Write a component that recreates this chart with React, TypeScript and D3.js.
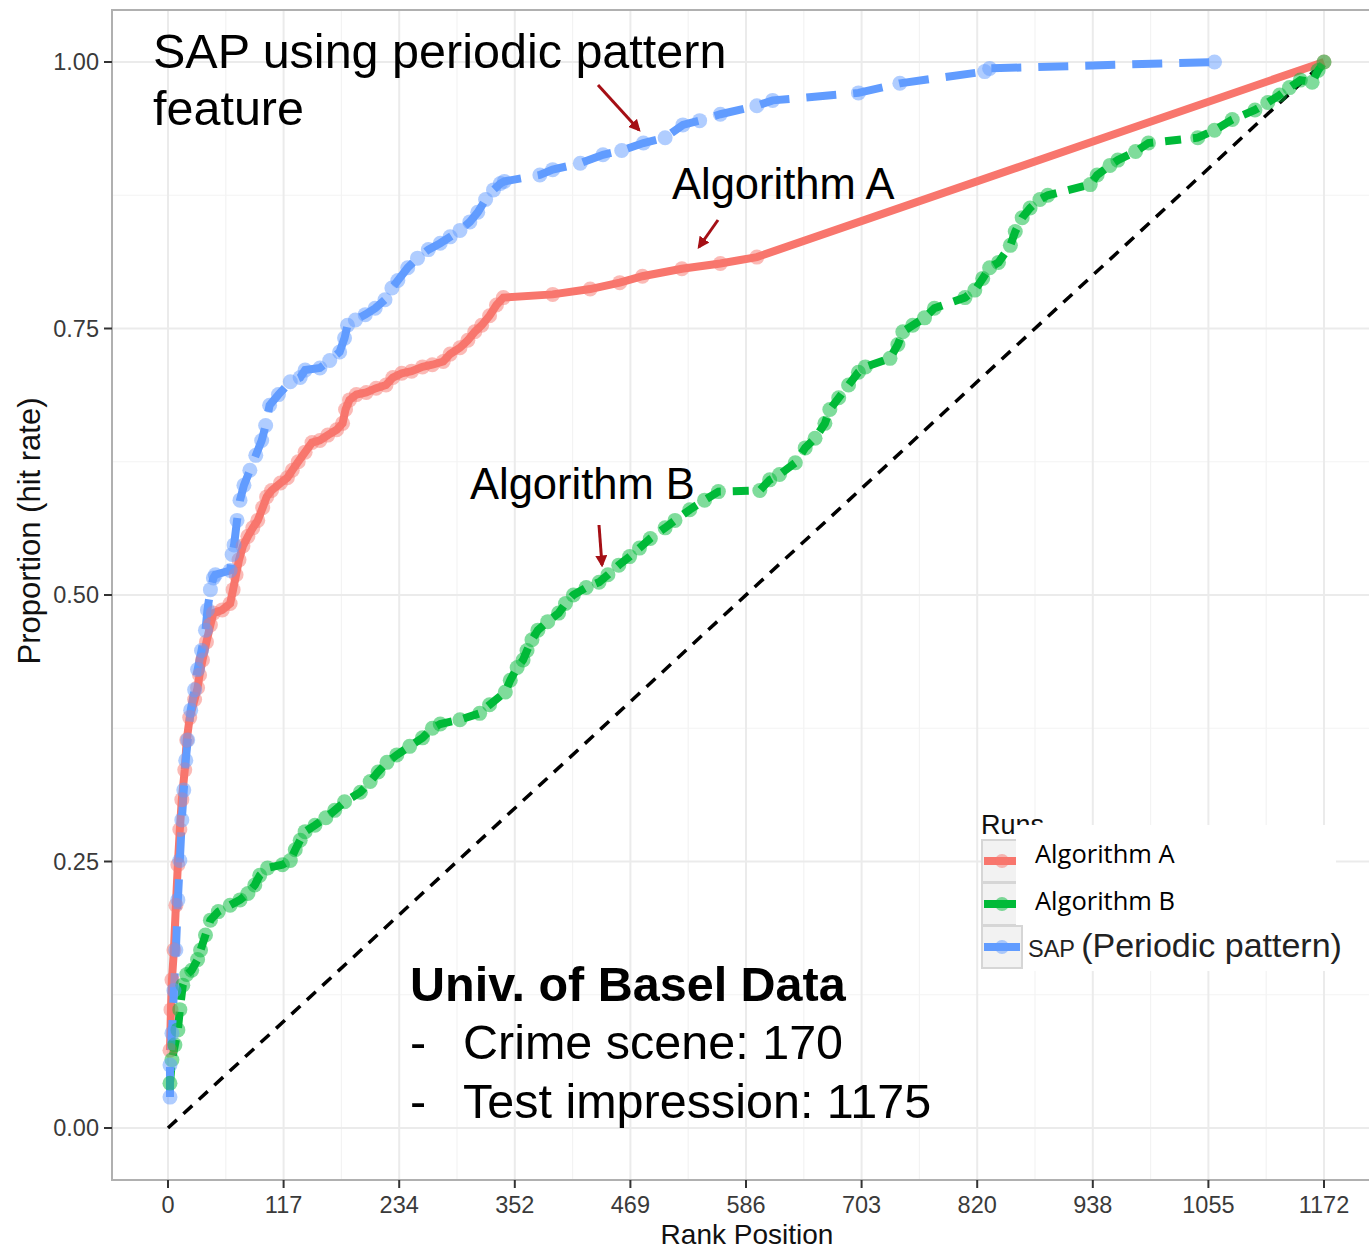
import React from 'react'
import * as d3 from 'd3'

// rank position, proportion (hit rate)
const sapRank = [2, 2, 4, 6, 8, 10, 12, 14, 16, 18, 20, 23, 27, 30, 34, 38, 40, 43, 46, 48, 63, 65, 67, 70, 73, 77, 83, 89, 95, 99, 103, 112, 124, 134, 139, 154, 164, 174, 179, 182, 190, 200, 210, 220, 227, 233, 243, 253, 264, 276, 286, 296, 306, 314, 322, 330, 337, 341, 377, 390, 418, 441, 460, 482, 504, 522, 539, 560, 597, 613, 700, 742, 828, 833, 1061]
const sapProp = [0.029, 0.059, 0.089, 0.129, 0.167, 0.214, 0.251, 0.289, 0.317, 0.345, 0.364, 0.392, 0.411, 0.43, 0.448, 0.467, 0.486, 0.505, 0.516, 0.519, 0.523, 0.538, 0.547, 0.57, 0.589, 0.603, 0.617, 0.631, 0.645, 0.659, 0.678, 0.688, 0.7, 0.704, 0.711, 0.713, 0.72, 0.728, 0.741, 0.753, 0.758, 0.763, 0.769, 0.777, 0.788, 0.795, 0.807, 0.816, 0.824, 0.83, 0.836, 0.842, 0.85, 0.859, 0.871, 0.88, 0.886, 0.888, 0.894, 0.899, 0.905, 0.913, 0.917, 0.924, 0.929, 0.941, 0.945, 0.951, 0.959, 0.964, 0.971, 0.98, 0.991, 0.994, 1.0]

const algARank = [2, 3, 4, 6, 8, 10, 12, 14, 17, 19, 22, 27, 30, 32, 35, 39, 43, 46, 55, 63, 66, 69, 72, 76, 81, 86, 91, 96, 100, 105, 114, 121, 126, 132, 139, 146, 154, 162, 171, 177, 180, 184, 191, 201, 211, 221, 228, 237, 247, 258, 268, 279, 286, 296, 304, 311, 318, 326, 333, 340, 390, 428, 458, 481, 521, 560, 597, 1172]
const algAProp = [0.073, 0.111, 0.139, 0.167, 0.209, 0.247, 0.28, 0.308, 0.336, 0.364, 0.385, 0.402, 0.413, 0.425, 0.439, 0.456, 0.472, 0.483, 0.486, 0.492, 0.505, 0.519, 0.533, 0.546, 0.555, 0.563, 0.57, 0.582, 0.592, 0.598, 0.605, 0.61, 0.617, 0.625, 0.634, 0.643, 0.645, 0.65, 0.655, 0.661, 0.674, 0.683, 0.688, 0.69, 0.694, 0.697, 0.704, 0.708, 0.71, 0.714, 0.716, 0.719, 0.726, 0.732, 0.739, 0.747, 0.753, 0.762, 0.772, 0.779, 0.782, 0.787, 0.793, 0.799, 0.806, 0.811, 0.817, 1.0]

const algBRank = [2, 4, 7, 10, 12, 15, 19, 24, 30, 33, 38, 43, 51, 63, 73, 81, 88, 93, 101, 116, 124, 129, 134, 139, 149, 160, 169, 179, 195, 205, 213, 222, 232, 245, 258, 268, 276, 296, 316, 326, 342, 347, 354, 360, 364, 369, 375, 385, 396, 403, 411, 424, 437, 446, 457, 468, 478, 489, 504, 514, 529, 544, 558, 600, 610, 620, 636, 646, 656, 666, 671, 680, 690, 700, 707, 732, 740, 745, 755, 767, 777, 808, 818, 826, 833, 842, 854, 859, 866, 874, 884, 892, 935, 942, 955, 963, 981, 994, 1044, 1061, 1079, 1102, 1115, 1127, 1137, 1148, 1160, 1166, 1172]
const algBProp = [0.042, 0.064, 0.078, 0.092, 0.111, 0.134, 0.144, 0.148, 0.158, 0.167, 0.181, 0.195, 0.203, 0.209, 0.214, 0.22, 0.228, 0.237, 0.244, 0.247, 0.251, 0.261, 0.27, 0.278, 0.284, 0.291, 0.298, 0.306, 0.315, 0.325, 0.334, 0.343, 0.35, 0.358, 0.366, 0.375, 0.379, 0.383, 0.389, 0.397, 0.409, 0.42, 0.432, 0.439, 0.448, 0.458, 0.467, 0.475, 0.483, 0.492, 0.5, 0.507, 0.512, 0.519, 0.528, 0.536, 0.544, 0.553, 0.563, 0.57, 0.58, 0.589, 0.597, 0.598, 0.608, 0.613, 0.624, 0.638, 0.647, 0.661, 0.674, 0.685, 0.697, 0.709, 0.714, 0.722, 0.735, 0.747, 0.753, 0.76, 0.769, 0.779, 0.786, 0.797, 0.807, 0.812, 0.828, 0.841, 0.854, 0.863, 0.871, 0.875, 0.885, 0.894, 0.903, 0.908, 0.916, 0.924, 0.929, 0.936, 0.946, 0.955, 0.962, 0.969, 0.976, 0.983, 0.981, 0.992, 1.0]

const maxRank = 1172
const yTicks = [0, 0.25, 0.5, 0.75, 1]

const series = [
    { name: 'Algorithm A', color: '#F8766D', dash: null, rank: algARank, prop: algAProp },
    { name: 'Algorithm B', color: '#00BA38', dash: '16,12', rank: algBRank, prop: algBProp },
    { name: 'SAP', color: '#619CFF', dash: '30,17', rank: sapRank, prop: sapProp },
]

const App = () => {
    const width = 1369
    const height = 1249
    const panel = { left: 112, top: 10, bottom: 1180, right: 1380 }

    const x = d3.scaleLinear().domain([0, maxRank]).range([168, 1324])
    const y = d3.scaleLinear().domain([0, 1]).range([1128, 62])

    const xTicks = d3.range(11).map(k => maxRank * k / 10)
    const xMinor = d3.range(-1, 11).map(k => maxRank * (k + 0.5) / 10)
    const yMinor = d3.range(-1, 5).map(k => (k + 0.5) / 4)

    const line = d3.line<[number, number]>().x(d => x(d[0])).y(d => y(d[1]))

    const font = '"Liberation Sans", Arial, sans-serif'

    return (
        <svg width={width} height={height} style={{ position: 'absolute', left: 0, top: 0, display: 'block' }} fontFamily={font}>
            <rect width={width} height={height} fill="#fff" />

            {/* grid */}
            <g>
                {xMinor.filter(v => x(v) > panel.left && x(v) < panel.right).map((v, i) => (
                    <line key={'xm' + i} x1={x(v)} x2={x(v)} y1={panel.top} y2={panel.bottom} stroke="#f3f3f3" strokeWidth={1.2} />
                ))}
                {yMinor.filter(v => y(v) > panel.top && y(v) < panel.bottom).map((v, i) => (
                    <line key={'ym' + i} x1={panel.left} x2={panel.right} y1={y(v)} y2={y(v)} stroke="#f3f3f3" strokeWidth={1.2} />
                ))}
                {xTicks.map((v, i) => (
                    <line key={'xg' + i} x1={x(v)} x2={x(v)} y1={panel.top} y2={panel.bottom} stroke="#ebebeb" strokeWidth={2} />
                ))}
                {yTicks.map((v, i) => (
                    <line key={'yg' + i} x1={panel.left} x2={panel.right} y1={y(v)} y2={y(v)} stroke="#ebebeb" strokeWidth={2} />
                ))}
            </g>

            {/* reference diagonal */}
            <line x1={x(0)} y1={y(0)} x2={x(maxRank)} y2={y(1)} stroke="#000" strokeWidth={3.5} strokeDasharray="12,9" />

            {/* lines */}
            {series.map(s => (
                <path key={s.name} d={line(s.rank.map((r, i) => [r, s.prop[i]])) || ''} fill="none"
                    stroke={s.color} strokeWidth={8} strokeDasharray={s.dash || undefined} />
            ))}
            {/* points */}
            {series.map(s => (
                <g key={s.name + 'p'} fill={s.color} fillOpacity={0.5}>
                    {s.rank.map((r, i) => (
                        <circle key={i} cx={x(r)} cy={y(s.prop[i])} r={7.5} />
                    ))}
                </g>
            ))}

            {/* panel border */}
            <path d={`M${panel.right},${panel.top}H${panel.left}V${panel.bottom}H${panel.right}`} fill="none" stroke="#b0b0b0" strokeWidth={2} />

            {/* axes */}
            <g fontSize={23.5} fill="#3a3a3a">
                {xTicks.map((v, i) => (
                    <g key={'xt' + i}>
                        <line x1={x(v)} x2={x(v)} y1={panel.bottom} y2={panel.bottom + 8} stroke="#333" strokeWidth={2} />
                        <text x={x(v)} y={panel.bottom + 33} textAnchor="middle">{Math.round(v)}</text>
                    </g>
                ))}
                {yTicks.map((v, i) => (
                    <g key={'yt' + i}>
                        <line x1={panel.left - 8} x2={panel.left} y1={y(v)} y2={y(v)} stroke="#333" strokeWidth={2} />
                        <text x={panel.left - 13} y={y(v) + 8} textAnchor="end">{v.toFixed(2)}</text>
                    </g>
                ))}
            </g>
            <text x={747} y={1244} textAnchor="middle" fontSize={28} fill="#111">Rank Position</text>
            <text transform="translate(40,531) rotate(-90)" textAnchor="middle" fontSize={31} fill="#111">Proportion (hit rate)</text>

            {/* legend */}
            <text x={981} y={834} fontSize={27} fill="#111">Runs</text>
            {series.map((s, i) => {
                const cy = 861 + i * 43
                return (
                    <g key={s.name + 'l'}>
                        <rect x={982} y={cy - 21} width={40} height={42} fill="#f2f2f2" stroke="#d6d6d6" strokeWidth={2} />
                        <line x1={984} x2={1020} y1={cy} y2={cy} stroke={s.color} strokeWidth={8} />
                        <circle cx={1002} cy={cy} r={7} fill={s.color} fillOpacity={0.5} />
                    </g>
                )
            })}
            <rect x={1016} y={825} width={320} height={100} fill="#fff" />
            <rect x={1024} y={925} width={322} height={46} fill="#fff" />
            <g fontFamily='"Open Sans", "Noto Sans", sans-serif' fontSize={25.5} fill="#000">
                <text x={1035} y={863}>Algorithm A</text>
                <text x={1035} y={910}>Algorithm B</text>
            </g>
            <text x={1028} y={957} fontSize={23.5} fill="#222">SAP <tspan fontSize={34}>(Periodic pattern)</tspan></text>

            {/* annotations */}
            <defs>
                <marker id="arr" viewBox="0 0 10 10" refX={8} refY={5} markerWidth={4} markerHeight={4} orient="auto">
                    <path d="M0,0L10,5L0,10z" fill="#a50f15" />
                </marker>
            </defs>
            <g fontSize={48.5} fill="#000">
                <text x={153} y={68}>SAP using periodic pattern</text>
                <text x={153} y={125}>feature</text>
            </g>
            <g fontSize={43.5} fill="#000">
                <text x={672} y={199}>Algorithm A</text>
                <text x={470} y={499}>Algorithm B</text>
            </g>
            <g stroke="#a50f15" strokeWidth={3} markerEnd="url(#arr)">
                <line x1={598} y1={85} x2={639} y2={130} />
                <line x1={718} y1={220} x2={699} y2={247} />
                <line x1={599} y1={525} x2={602} y2={565} />
            </g>
            <g fontSize={48.5} fill="#000">
                <text x={410} y={1001} fontWeight="bold">Univ. of Basel Data</text>
                <text x={410} y={1059}>-</text>
                <text x={463} y={1059}>Crime scene: 170</text>
                <text x={410} y={1118}>-</text>
                <text x={463} y={1118}>Test impression: 1175</text>
            </g>
        </svg>
    )
}

export default App
